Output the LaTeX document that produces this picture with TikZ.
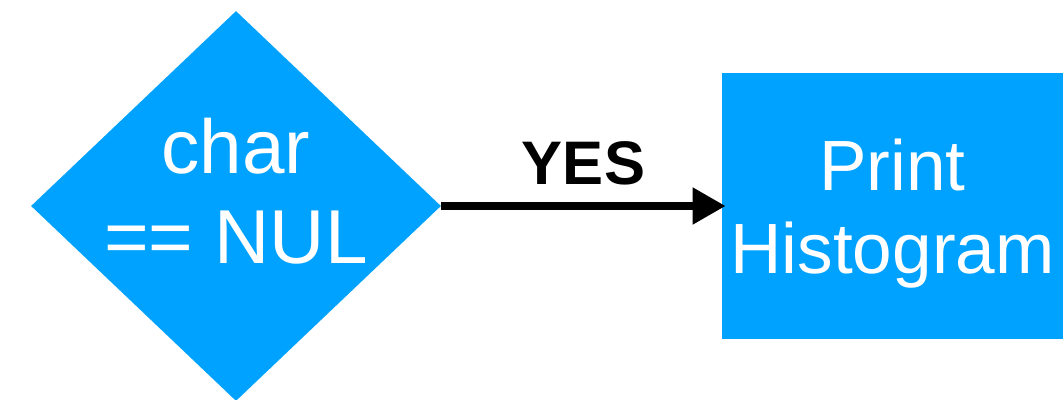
\documentclass[tikz,border=0pt]{standalone}
\usepackage{fontspec}
\setmainfont{Liberation Sans}
\usepackage{tikz}
\usetikzlibrary{shapes.geometric,arrows.meta}
\definecolor{keyblue}{HTML}{00A2FF}
\begin{document}
\begin{tikzpicture}[
  decision/.style={diamond,fill=keyblue,draw=none,inner sep=0pt,minimum width=8.2cm,minimum height=7.8cm},
  process/.style={rectangle,fill=keyblue,draw=none,inner sep=0pt,minimum width=6.82cm,minimum height=5.32cm},
  whitetext/.style={text=white,align=center,inner sep=0pt}]
 \useasboundingbox (0,0) rectangle (21.28,8);
 \node[decision] (cond) at (4.72,3.88) {};
 \node[whitetext,font=\fontsize{43.5}{51}\selectfont] (condtext) at ([yshift=0.3cm]cond.center) {char\\== NUL};
 \node[process] (print) at (17.85,3.88) {};
 \node[whitetext,font=\fontsize{40.5}{47.6}\selectfont] (printtext) at ([yshift=-0.15cm]print.center) {Print\\Histogram};
 \draw[line width=0.16cm,-{Triangle[length=0.66cm,width=0.7cm]}] (cond.east) -- ([xshift=0.08cm]print.west)
   node[midway,anchor=base,yshift=0.42cm,font=\fontsize{35}{42}\selectfont\bfseries] (yes) {YES};
\end{tikzpicture}
\end{document}
